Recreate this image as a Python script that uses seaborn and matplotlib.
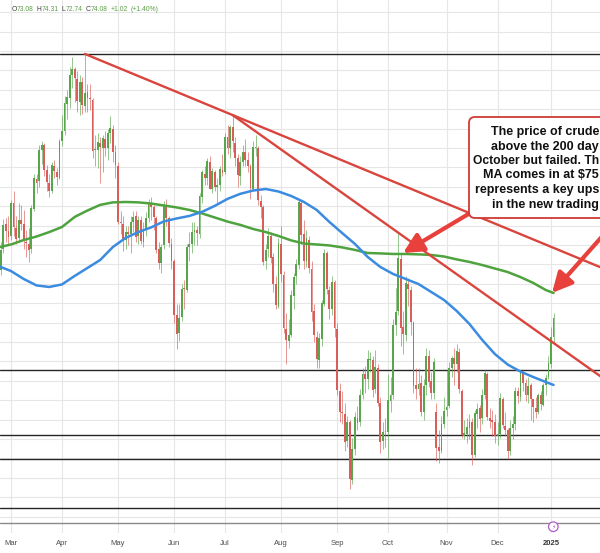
import numpy as np
import pandas as pd
import matplotlib
matplotlib.use("Agg")
import matplotlib.pyplot as plt
import seaborn as sns
from matplotlib.patches import FancyBboxPatch, Circle

# ---------------- data ----------------
start_date = "2024-02-23"
end_date = "2025-01-03"
holidays = ["2024-03-29", "2024-05-27", "2024-07-04", "2024-09-02",
            "2024-11-28", "2024-12-25", "2025-01-01"]

opens = [
    78.60, 76.55, 77.60, 78.90, 78.55,
    78.30, 80.00, 78.70, 78.20, 79.10, 78.90, 78.00, 77.90, 77.60, 79.70,
    81.20, 81.10, 82.70, 83.00, 81.70, 81.00, 80.60, 81.90, 81.60, 81.30,
    83.20, 83.70, 85.10, 85.40, 86.60, 86.90, 86.40, 85.20, 86.20, 85.00, 85.70,
    85.40, 85.30, 82.70, 82.70, 83.10, 82.80, 83.30, 82.80, 83.60, 83.80, 82.60,
    81.90, 79.00, 78.90, 78.10, 78.50, 78.40, 79.00, 79.30, 78.30, 79.10, 78.00,
    78.60, 79.20, 80.00, 79.80, 79.20, 77.60, 76.90, 77.80, 79.80, 79.20, 77.90,
    77.00, 74.20, 73.30, 74.10, 75.60, 75.50, 77.70, 77.90, 78.50, 78.60,
    78.40, 80.30, 81.50, 81.30, 82.10, 80.70, 81.60, 80.80, 80.90, 81.70,
    81.60, 83.40, 82.80, 83.90, 83.10, 82.30, 81.40, 82.10, 82.60, 82.20, 81.90,
    80.70, 82.80, 82.80, 80.10, 79.80, 77.00, 77.60, 78.30, 77.20, 75.80, 74.70,
    77.90, 76.30, 73.50, 72.90, 73.20, 75.20, 76.20, 76.80, 80.00, 78.40, 77.00,
    78.10, 76.60, 74.40, 73.10, 71.90, 73.00, 74.80, 77.40, 75.50, 74.50, 75.90,
    73.50, 70.30, 69.20, 69.10, 67.70, 68.70, 65.70, 67.30, 68.90, 68.70,
    70.10, 71.20, 70.90, 71.90, 71.90, 70.40, 71.50, 69.70, 67.70, 68.20,
    68.20, 69.80, 70.10, 73.70, 74.40, 77.10, 73.60, 73.20, 75.80, 75.50, 73.80, 70.60,
    70.40, 70.70, 69.20, 70.60, 72.10, 70.80, 70.20, 69.20, 67.40, 67.20, 68.60,
    69.30, 69.50, 71.50, 72.00, 71.70, 72.30, 70.30, 68.00, 68.10, 68.40,
    68.70, 67.00, 69.10, 69.40, 68.90, 70.10, 71.20, 68.90, 68.80, 68.70,
    68.00, 68.10, 69.90, 68.50, 68.30, 67.20, 68.40, 68.60, 70.30, 70.00, 71.30,
    70.70, 70.10, 70.60, 69.90, 69.40, 69.20, 70.10, 69.60, 70.60, 71.00,
    71.70, 73.08,
]
highs = [
    78.70, 77.96, 79.17, 79.20, 79.32,
    80.14, 80.62, 79.30, 80.00, 79.90, 79.65, 78.60, 78.70, 79.88, 81.50,
    81.50, 83.00, 83.20, 83.10, 81.95, 81.50, 82.10, 82.20, 81.80, 83.30,
    84.50, 85.50, 85.80, 86.98, 87.50, 87.00, 86.80, 86.60, 86.50, 87.67, 86.10,
    86.10, 85.40, 83.50, 83.60, 83.40, 83.50, 83.70, 83.80, 84.46, 84.00, 83.00,
    82.10, 79.60, 79.30, 78.80, 78.80, 79.30, 79.60, 79.60, 79.30, 79.30, 79.00,
    79.50, 80.20, 80.30, 79.90, 79.30, 78.00, 77.90, 80.10, 80.20, 79.30, 78.20,
    77.10, 74.80, 74.80, 75.80, 76.00, 77.90, 78.50, 79.00, 79.00, 78.80,
    80.50, 81.70, 81.90, 82.30, 82.40, 81.80, 81.70, 81.30, 81.90, 82.50,
    83.60, 84.00, 84.00, 84.52, 83.40, 82.50, 82.40, 83.00, 83.30, 82.60, 82.00,
    83.20, 83.50, 82.90, 80.40, 79.90, 77.90, 78.70, 78.50, 77.40, 76.20, 78.20,
    78.80, 76.50, 74.30, 74.00, 75.50, 76.40, 77.10, 80.20, 80.10, 79.10, 78.60,
    78.30, 77.00, 74.80, 73.40, 73.30, 75.00, 77.60, 77.50, 75.70, 76.20, 76.00,
    73.80, 70.70, 70.30, 69.70, 69.00, 68.80, 67.90, 69.20, 69.50, 70.40,
    71.50, 71.60, 72.40, 72.30, 72.10, 72.40, 71.70, 70.00, 68.70, 68.90,
    71.20, 71.00, 74.00, 75.60, 78.46, 77.40, 74.40, 76.20, 76.10, 75.70, 73.90, 71.50,
    71.50, 71.10, 70.90, 72.50, 72.40, 71.30, 72.00, 69.70, 68.30, 69.00, 70.00,
    71.40, 71.80, 72.10, 72.50, 72.70, 72.50, 70.40, 68.80, 68.90, 69.10,
    68.90, 69.30, 69.70, 69.60, 70.40, 71.40, 71.30, 69.40, 69.30, 69.10,
    68.70, 70.20, 70.00, 69.20, 68.40, 68.80, 69.00, 70.50, 70.50, 71.40, 71.40,
    70.90, 71.00, 70.70, 69.90, 70.00, 70.20, 70.30, 70.70, 71.20, 72.10,
    73.60, 74.31,
]
lows = [
    76.04, 76.28, 77.40, 78.00, 77.85,
    78.10, 78.30, 77.85, 78.00, 78.60, 77.60, 77.20, 76.95, 77.40, 79.60,
    80.50, 80.80, 82.00, 81.40, 80.60, 80.30, 80.50, 81.30, 80.90, 81.20,
    82.90, 83.50, 84.30, 84.90, 85.90, 85.20, 84.70, 84.50, 84.60, 84.70, 84.70,
    84.80, 82.30, 81.90, 81.80, 81.00, 81.60, 82.40, 82.20, 83.10, 82.10, 81.30,
    78.90, 78.40, 77.50, 77.60, 77.80, 77.40, 78.50, 78.00, 77.90, 77.90, 77.70,
    78.30, 79.00, 79.10, 78.60, 77.40, 76.60, 76.40, 77.60, 78.80, 77.70, 76.60,
    73.80, 72.48, 72.90, 73.90, 74.50, 75.40, 77.00, 77.40, 77.80, 77.80,
    78.20, 80.00, 80.90, 80.90, 80.70, 80.50, 80.60, 80.00, 80.60, 81.40,
    81.50, 82.50, 82.30, 82.60, 81.90, 80.80, 80.90, 81.90, 81.90, 81.60, 80.20,
    80.60, 82.40, 79.90, 79.20, 76.80, 76.60, 77.20, 76.90, 75.40, 74.50, 74.60,
    75.90, 73.30, 71.67, 72.50, 73.10, 74.50, 75.80, 76.60, 77.90, 76.60, 76.70,
    76.40, 73.90, 72.80, 71.46, 71.50, 72.60, 74.70, 75.30, 74.00, 74.20, 73.10,
    70.10, 68.70, 68.60, 67.20, 67.40, 65.27, 65.50, 67.00, 68.30, 68.50,
    69.90, 70.20, 70.40, 71.30, 70.00, 70.20, 69.50, 67.10, 67.30, 67.40,
    66.80, 69.20, 69.90, 73.20, 74.20, 72.60, 72.20, 72.90, 74.70, 73.20, 70.20, 69.90,
    70.10, 69.00, 68.80, 70.10, 70.50, 69.90, 69.90, 66.70, 66.60, 67.10, 68.40,
    69.00, 69.40, 71.00, 70.60, 71.30, 70.20, 67.90, 67.80, 67.60, 67.80,
    66.50, 66.90, 68.40, 68.20, 68.60, 69.90, 68.80, 68.40, 68.00, 67.60,
    67.50, 67.90, 68.40, 68.00, 66.80, 67.00, 67.80, 68.30, 69.70, 69.80, 70.30,
    69.80, 69.70, 68.80, 68.70, 68.90, 69.10, 69.30, 69.50, 70.10, 70.90,
    71.50, 72.74,
]
closes = [
    76.49, 77.58, 78.87, 78.54, 78.26,
    79.97, 78.74, 78.15, 79.13, 78.93, 78.01, 77.93, 77.56, 79.72, 81.26,
    81.04, 82.72, 83.00, 81.68, 81.07, 80.63, 81.95, 81.62, 81.35, 83.17,
    83.71, 85.15, 85.43, 86.59, 86.91, 86.43, 85.23, 86.21, 85.02, 85.66, 85.41,
    85.36, 82.69, 82.73, 83.14, 82.85, 83.36, 82.81, 83.57, 83.85, 82.63, 81.93,
    79.00, 78.95, 78.11, 78.48, 78.38, 78.99, 79.26, 78.26, 79.12, 78.02, 78.63,
    79.23, 80.06, 79.80, 79.26, 77.57, 76.87, 77.72, 79.83, 79.23, 77.91, 76.99,
    74.22, 73.25, 74.07, 75.55, 75.53, 77.74, 77.90, 78.50, 78.62, 78.45,
    80.33, 81.57, 81.30, 82.17, 80.73, 81.63, 80.83, 80.90, 81.74, 81.54,
    83.38, 82.81, 83.88, 83.16, 82.33, 81.41, 82.10, 82.62, 82.21, 81.91, 80.76,
    82.85, 82.82, 80.13, 79.78, 76.96, 77.59, 78.28, 77.16, 75.81, 74.73, 77.91,
    76.31, 73.52, 72.94, 73.20, 75.23, 76.19, 76.84, 80.06, 78.35, 76.98, 78.16,
    76.65, 74.37, 73.17, 71.93, 73.01, 74.83, 77.42, 75.53, 74.52, 75.91, 73.55,
    70.34, 69.20, 69.15, 67.67, 68.71, 65.75, 67.31, 68.97, 68.65, 70.09,
    71.19, 70.91, 71.95, 71.92, 70.37, 71.56, 69.69, 67.67, 68.18, 68.17,
    69.83, 70.10, 73.71, 74.38, 77.14, 73.57, 73.24, 75.85, 75.56, 73.83, 70.58, 70.39,
    70.67, 69.22, 70.56, 72.09, 70.77, 70.19, 71.78, 67.38, 67.21, 68.61, 69.26,
    69.49, 71.47, 71.99, 71.69, 72.36, 70.38, 68.04, 68.12, 68.43, 68.70,
    67.02, 69.16, 69.39, 68.87, 70.10, 71.24, 68.94, 68.77, 68.72, 68.00,
    68.10, 69.94, 68.54, 68.30, 67.20, 68.37, 68.59, 70.29, 70.02, 71.29, 70.71,
    70.08, 70.58, 69.91, 69.46, 69.24, 70.10, 69.62, 70.60, 70.99, 71.72,
    73.06, 74.08,
]

# moving averages sampled every 5 sessions (plus last session)
ma200 = [77.70, 77.85, 78.08, 78.26, 78.49, 78.75, 79.27, 79.60, 79.89, 80.02,
         80.04, 80.02, 79.96, 79.86, 79.76, 79.63, 79.45, 79.24, 79.03, 78.86,
         78.65, 78.49, 78.29, 78.06, 77.90, 77.85, 77.80, 77.70, 77.57, 77.41,
         77.39, 77.36, 77.36, 77.34, 77.31, 77.23, 77.08, 76.95, 76.79, 76.61,
         76.43, 76.17, 75.87, 75.50, 75.35]
ma100 = [76.74, 76.48, 76.07, 75.74, 75.66, 75.79, 76.23, 76.64, 77.05, 77.72,
         78.19, 78.49, 78.73, 79.04, 79.19, 79.32, 79.53, 79.84, 80.20, 80.46,
         80.63, 80.71, 80.58, 80.35, 80.04, 79.63, 79.01, 78.44, 77.88, 77.21,
         76.69, 76.33, 76.07, 75.81, 75.40, 74.99, 74.42, 73.75, 72.93, 72.20,
         71.66, 71.30, 71.02, 70.76, 70.61]

# trend lines: pairs of swing highs
trend_anchor_dates = [("2024-04-12", "2024-07-05"), ("2024-07-05", "2024-10-07")]
# horizontal levels
level_lines = [87.67, 71.38, 68.03, 66.79, 64.28]
gray_level = 63.48

month_names = ["Mar", "Apr", "May", "Jun", "Jul", "Aug", "Sep", "Oct", "Nov", "Dec", "2025"]

note_lines = ["The price of crude", "above the 200 day", "October but failed. Th",
              "MA comes in at $75", "represents a key ups", "in the new trading"]

# arrows: (tail, tip) in (session, price)
arrow_pts = [((186.0, 79.53), (158.9, 77.41)),
             ((242.1, 79.01), (217.4, 75.35))]

# ---------------- build ----------------
dates = pd.bdate_range(start_date, end_date)
dates = dates[~dates.isin(pd.to_datetime(holidays))]
n = len(dates)
idx = np.arange(n)
o = np.array(opens); h = np.array(highs); l = np.array(lows); c = np.array(closes)
assert len(o) == len(h) == len(l) == len(c) == n, (len(o), len(h), len(l), len(c), n)
ma_days = list(range(0, n - 3, 5)) + [n - 1]

sns.set_theme(style="white")
plt.rcParams["font.family"] = ["Liberation Sans", "DejaVu Sans"]

W, H = 600, 553
fig = plt.figure(figsize=(W / 100, H / 100), dpi=100)
ax_bottom = 20
ax = fig.add_axes([0, ax_bottom / H, 1, (H - ax_bottom) / H])

x_lo, x_hi = 0.667, 236.24
y_lo, y_hi = 62.98, 90.45
ax.set_xlim(x_lo, x_hi)
ax.set_ylim(y_lo, y_hi)
for s in ax.spines.values():
    s.set_visible(False)

# month ticks / grid
month_first = [i for i in range(1, n) if dates[i].month != dates[i - 1].month]
ax.set_xticks(month_first)
ax.set_xticklabels(month_names)
ax.set_yticks(np.arange(64.82 - 1, y_hi, 1.0))
ax.tick_params(axis="y", left=False, labelleft=False)
ax.tick_params(axis="x", length=0, pad=5, labelsize=5.5, labelcolor="#4d4d4d")
ax.get_xticklabels()[-1].set_fontweight("bold")
ax.get_xticklabels()[-1].set_color("#333333")
ax.grid(True, color="#e6e6e6", lw=0.8)
ax.set_axisbelow(True)

# levels
for lv in level_lines:
    ax.axhline(lv, color="#262626", lw=1.0, zorder=2)
ax.axhline(gray_level, color="#8a8a8a", lw=1.0, zorder=2)

# candles
up = c >= o
green, red = "#58a64c", "#d95d58"
cols = np.where(up, green, red)
ax.vlines(idx, l, h, colors=cols, lw=0.6, alpha=0.75, zorder=3)
body = np.maximum(np.abs(c - o), 0.05)
ax.bar(idx, body, bottom=np.minimum(o, c), width=0.72, color=cols, lw=0, zorder=3)

# moving averages
sns.lineplot(x=ma_days, y=ma200, ax=ax, color="#4fa33f", lw=1.8, zorder=4)
sns.lineplot(x=ma_days, y=ma100, ax=ax, color="#3b8be0", lw=1.8, zorder=4)

# trend lines
for d0, d1 in trend_anchor_dates:
    i0 = int(np.where(dates == pd.Timestamp(d0))[0][0])
    i1 = int(np.where(dates == pd.Timestamp(d1))[0][0])
    slope = (h[i1] - h[i0]) / (i1 - i0)
    xe = x_hi + 2
    sns.lineplot(x=[i0, xe], y=[h[i0], h[i0] + slope * (xe - i0)], ax=ax,
                 color="#d9453d", lw=1.7, zorder=5)

# arrows
for tail, tip in arrow_pts:
    ax.annotate("", xy=tip, xytext=tail, annotation_clip=False,
                arrowprops=dict(arrowstyle="-|>,head_length=1.0,head_width=0.5",
                                color="#e8403a", lw=3.0, shrinkA=0, shrinkB=0),
                zorder=6)

# ---------------- overlay (pixel space) ----------------
ov = fig.add_axes([0, 0, 1, 1], zorder=5)
ov.set_xlim(0, W)
ov.set_ylim(H, 0)
ov.axis("off")
ov.patch.set_alpha(0)

box = FancyBboxPatch((469, 117), 170, 101, boxstyle="round,pad=0,rounding_size=6",
                     fc="white", ec="#cf3a34", lw=1.3)
ov.add_patch(box)
line_y = [135.2, 150.0, 164.5, 178.5, 193.3, 207.8]
line_fs = [9, 9, 8.7, 9, 9, 9]
for t, yy, fs in zip(note_lines, line_y, line_fs):
    ov.text(599.0, yy, t, fontsize=fs, fontweight="bold", color="#111111",
            ha="right", va="baseline")

# header OHLC (pieces laid out one after another)
gcol, dcol = "#5e9e48", "#3a3a3a"
chg = c[-1] - c[-2]
pct = chg / c[-2] * 100
pieces = [("O", dcol, 0.0), (f"{o[-1]:.2f}", gcol, 3.0),
          ("H", dcol, 0.0), (f"{h[-1]:.2f}", gcol, 3.0),
          ("L", dcol, 0.0), (f"{l[-1]:.2f}", gcol, 3.0),
          ("C", dcol, 0.0), (f"{c[-1]:.2f}", gcol, 3.0),
          (f"{chg:+.2f}", gcol, 3.0), (f"({pct:+.2f}%)", gcol, 0.0)]
renderer = fig.canvas.get_renderer()
hx = 11.7
for t, col, gap in pieces:
    txt = ov.text(hx, 9.5, t, fontsize=4.85, color=col, ha="left", va="center")
    bb = txt.get_window_extent(renderer=renderer)
    hx += bb.width + gap

# event icon
ov.add_patch(Circle((553.3, 526.7), 4.8, fc="white", ec="#b05ccc", lw=0.9))
ov.text(553.3, 527.0, "\u26a1", fontsize=4.5, color="#b05ccc", ha="center", va="center",
        family=["DejaVu Sans"])

fig.savefig("out.png", dpi=100)
